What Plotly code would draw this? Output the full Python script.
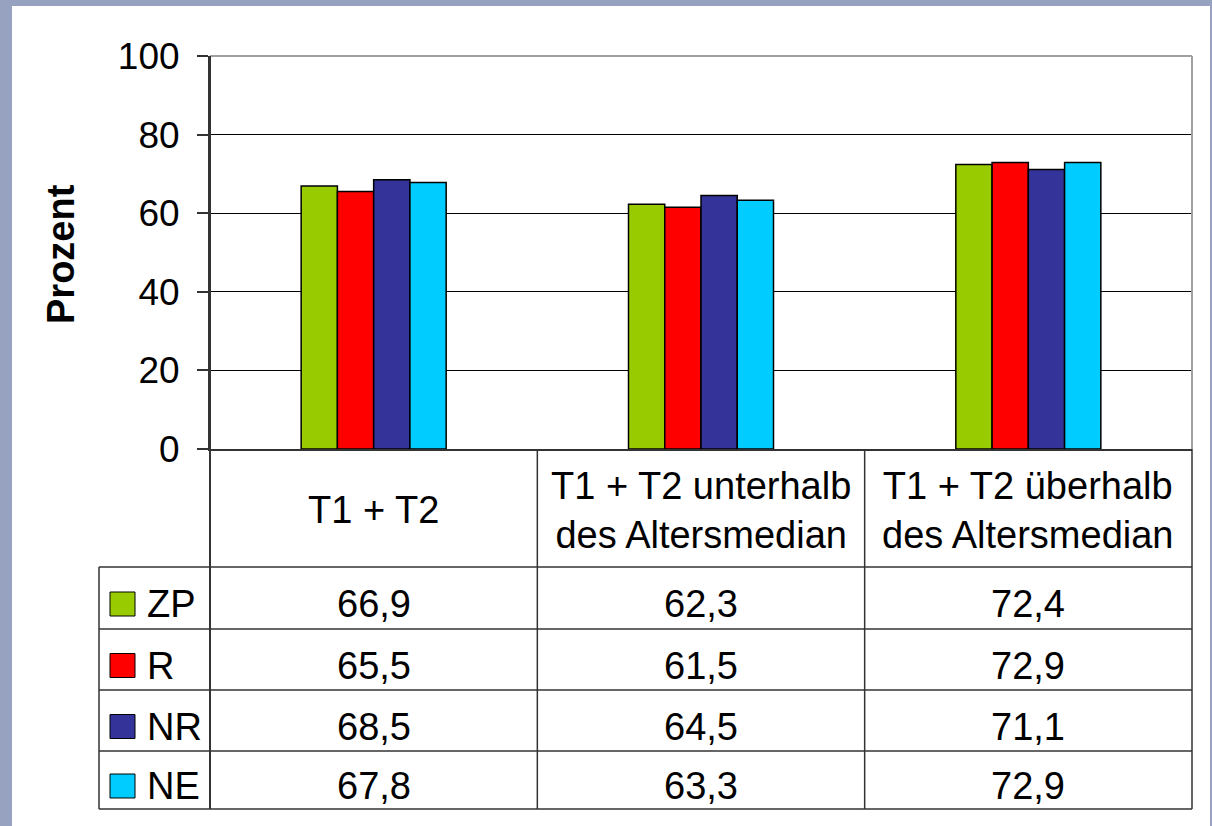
import plotly.graph_objects as go

# data
categories = ["T1 + T2", "T1 + T2 unterhalb<br>des Altersmedian", "T1 + T2 überhalb<br>des Altersmedian"]
series = ["ZP", "R", "NR", "NE"]
colors = ["#99CC00", "#FF0000", "#333399", "#00CCFF"]
zp = [66.9, 62.3, 72.4]
r = [65.5, 61.5, 72.9]
nr = [68.5, 64.5, 71.1]
ne = [67.8, 63.3, 72.9]
values = [zp, r, nr, ne]
y_ticks = [0, 20, 40, 60, 80, 100]

W, H = 1212, 826
L, R_, T, B = 210, 1192, 56, 449   # plot area in pixels

def px(x):
    return (x - L) / (R_ - L)

def py(y):
    return (B - y) / (B - T)

FONT = "Liberation Sans, Arial, sans-serif"
LINE = "#333333"
TXT = 38

fig = go.Figure()
for name, vals, col in zip(series, values, colors):
    fig.add_trace(go.Bar(x=categories, y=vals, name=name,
                         marker=dict(color=col, line=dict(color="black", width=1.5))))

shapes = []
# white panel on the blue-grey slide background
shapes.append(dict(type="rect", xref="paper", yref="paper", x0=px(12), x1=px(1210), y0=py(6), y1=py(830),
                   fillcolor="white", line=dict(width=0), layer="below"))
# grey top / right frame of plot area
shapes.append(dict(type="line", xref="paper", yref="paper", x0=0, x1=1, y0=1, y1=1,
                   line=dict(color="#a0a0a0", width=2)))
shapes.append(dict(type="line", xref="paper", yref="paper", x0=1, x1=1, y0=0, y1=1,
                   line=dict(color="#a0a0a0", width=2)))

# data table below the plot
rows_y = [567, 629, 690, 751, 809]
for yy in rows_y:
    shapes.append(dict(type="line", xref="paper", yref="paper", x0=px(99), x1=1, y0=py(yy), y1=py(yy),
                       line=dict(color=LINE, width=1.5)))
shapes.append(dict(type="line", xref="paper", yref="paper", x0=px(99), x1=px(99), y0=py(567), y1=py(809),
                   line=dict(color=LINE, width=1.5)))
for k in range(4):
    shapes.append(dict(type="line", xref="paper", yref="paper", x0=k / 3, x1=k / 3,
                       y0=0 if k else 1, y1=py(809), line=dict(color=LINE, width=1.5 if k else 2)))

annotations = []
# header cells
for cat in categories:
    annotations.append(dict(x=cat, xref="x", y=py(510), yref="paper", text=cat, showarrow=False,
                            xanchor="center", yanchor="middle", font=dict(size=TXT, color="black")))
# legend column + values
for i, (name, vals, col) in enumerate(zip(series, values, colors)):
    y0, y1 = rows_y[i], rows_y[i + 1]
    yc = (y0 + y1) / 2 + 6
    shapes.append(dict(type="rect", xref="paper", yref="paper", x0=px(110), x1=px(135),
                       y0=py(yc - 12), y1=py(yc + 12), fillcolor=col, line=dict(color="black", width=1)))
    annotations.append(dict(x=px(145), xref="paper", y=py(yc), yref="paper", text=name, showarrow=False,
                            xanchor="left", yanchor="middle", font=dict(size=TXT, color="black")))
    for cat, v in zip(categories, vals):
        annotations.append(dict(x=cat, xref="x", y=py(yc), yref="paper",
                                text=f"{v:.1f}".replace(".", ","), showarrow=False,
                                xanchor="center", yanchor="middle", font=dict(size=TXT, color="black")))
# y title
annotations.append(dict(x=px(61), xref="paper", y=py(254), yref="paper", text="<b>Prozent</b>", textangle=-90,
                        showarrow=False, xanchor="center", yanchor="middle", font=dict(size=38, color="black")))

fig.update_layout(
    width=W, height=H,
    margin=dict(l=L, r=W - R_, t=T, b=H - B, pad=0),
    paper_bgcolor="#96a2c0", plot_bgcolor="rgba(0,0,0,0)",
    font=dict(family=FONT, color="black"),
    barmode="group", bargap=0.557, bargroupgap=0,
    showlegend=False,
    shapes=shapes, annotations=annotations,
)
fig.update_xaxes(showticklabels=False, ticks="", showline=True, linecolor=LINE, linewidth=2,
                 showgrid=False)
fig.update_yaxes(range=[0, 100], tickvals=y_ticks, ticks="outside", ticklen=11, tickwidth=2,
                 tickcolor=LINE, ticklabelstandoff=10, showline=True, linecolor=LINE, linewidth=2,
                 showgrid=True, gridcolor="black", gridwidth=1, zeroline=False,
                 tickfont=dict(size=37, color="black"))

# page body margin would shift the figure by 8px
fig.write_html("out.html", config={"displayModeBar": False},
               post_script="document.body.style.margin='0';")
